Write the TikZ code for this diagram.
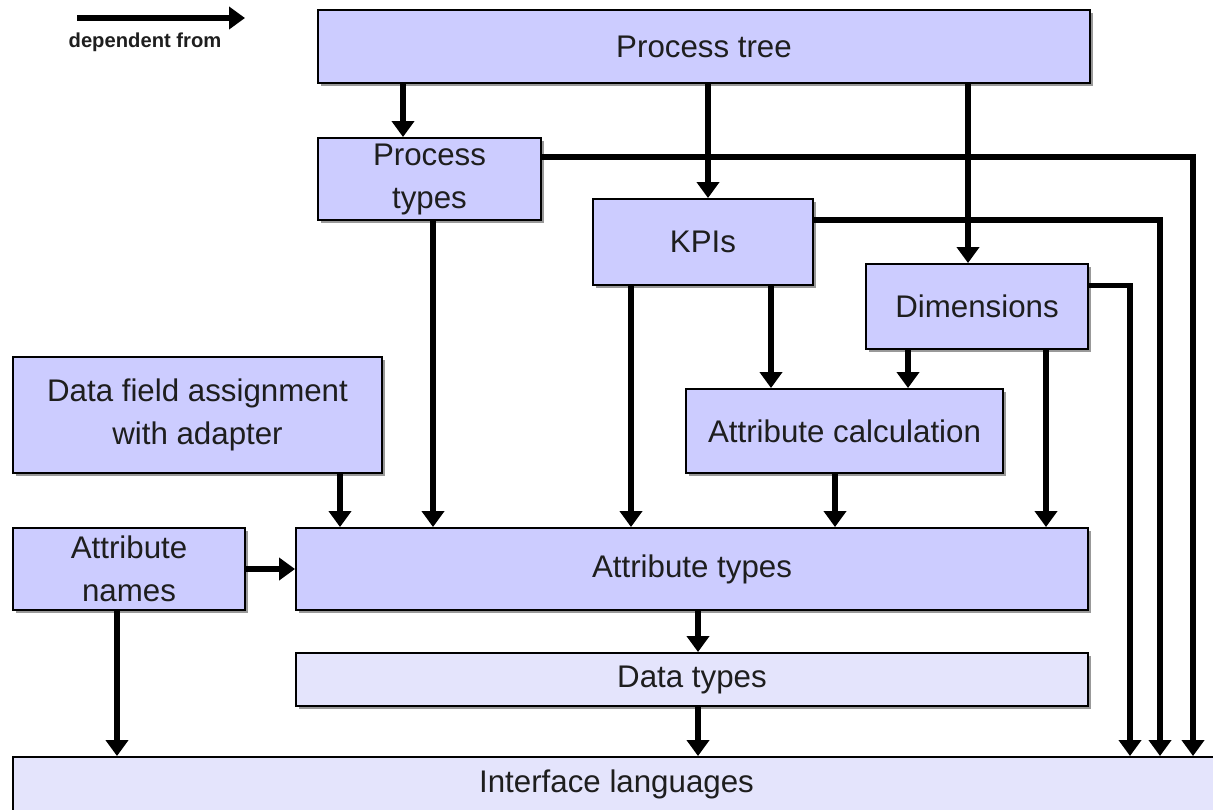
\documentclass[tikz,border=0pt]{standalone}
\usepackage{fontspec}
\setmainfont{Liberation Sans}
\usetikzlibrary{arrows.meta,shadows}

\definecolor{boxfill}{RGB}{204,204,255}
\definecolor{lightfill}{RGB}{228,228,252}
\definecolor{boxtext}{RGB}{30,30,30}

\tikzset{
  block/.style={draw=black,line width=1.1pt,fill=boxfill,text=boxtext,
    align=center,inner sep=0pt,font=\fontsize{17.8}{24.5}\selectfont,
    drop shadow={shadow xshift=0.05cm,shadow yshift=-0.05cm,fill=gray!80,opacity=1}},
  lightblock/.style={block,fill=lightfill},
  dep/.style={line width=3.1pt,-{Triangle[width=0.44cm,length=0.32cm]}},
}

\begin{document}
\begin{tikzpicture}
   \useasboundingbox (0,0) rectangle (24.26,-16.18);
   % boxes
   \node[block,minimum width=15.44cm,minimum height=1.46cm] (ptree) at (14.08,-0.93) {Process tree};
   \node[block,minimum width=4.46cm,minimum height=1.64cm] (ptypes) at (8.59,-3.58) {Process\\types};
   \node[block,minimum width=4.40cm,minimum height=1.72cm] (kpis) at (14.06,-4.84) {KPIs};
   \node[block,minimum width=4.44cm,minimum height=1.70cm] (dims) at (19.54,-6.13) {Dimensions};
   \node[block,minimum width=7.38cm,minimum height=2.32cm] (dfield) at (3.95,-8.30) {Data field assignment\\with adapter};
   \node[block,minimum width=6.34cm,minimum height=1.68cm] (acalc) at (16.89,-8.62) {Attribute calculation};
   \node[block,minimum width=4.64cm,minimum height=1.64cm] (anames) at (2.58,-11.38) {Attribute\\names};
   \node[block,minimum width=15.84cm,minimum height=1.64cm] (atypes) at (13.84,-11.38) {Attribute types};
   \node[lightblock,minimum width=15.84cm,minimum height=1.06cm] (dtypes) at (13.84,-13.59) {Data types};
   \node[lightblock,minimum width=24.14cm,minimum height=1.10cm] (ilang) at (12.33,-15.69) {Interface languages};

   % legend
   \coordinate (leg_a) at (1.54,-0.36);
   \coordinate (leg_b) at (4.90,-0.36);
   \draw[dep] (leg_a) -- (leg_b);
   \node[font=\fontsize{11.5}{13}\bfseries,text=boxtext] (legtext) at (2.90,-0.85) {dependent from};

   % x positions of the vertical connectors
   \coordinate (x_anl) at (2.34,0);
   \coordinate (x_dfa) at (6.80,0);
   \coordinate (x_ptt) at (8.06,0);
   \coordinate (x_pta) at (8.66,0);
   \coordinate (x_kpa) at (12.62,0);
   \coordinate (x_dty) at (13.96,0);
   \coordinate (x_ptk) at (14.16,0);
   \coordinate (x_kpc) at (15.42,0);
   \coordinate (x_cla) at (16.70,0);
   \coordinate (x_dmc) at (18.16,0);
   \coordinate (x_ptd) at (19.36,0);
   \coordinate (x_dma) at (20.92,0);
   \coordinate (x_dmi) at (22.60,0);
   \coordinate (x_kpi) at (23.20,0);
   \coordinate (x_pti) at (23.86,0);

   \path[dep]
       (ptree.south -| x_ptt) edge (ptypes.north -| x_ptt)
       (ptree.south -| x_ptk) edge (kpis.north -| x_ptk)
       (ptree.south -| x_ptd) edge (dims.north -| x_ptd)
       (ptypes.south -| x_pta) edge (atypes.north -| x_pta)
       (kpis.south -| x_kpa) edge (atypes.north -| x_kpa)
       (kpis.south -| x_kpc) edge (acalc.north -| x_kpc)
       (dims.south -| x_dmc) edge (acalc.north -| x_dmc)
       (dims.south -| x_dma) edge (atypes.north -| x_dma)
       (dfield.south -| x_dfa) edge (atypes.north -| x_dfa)
       (acalc.south -| x_cla) edge (atypes.north -| x_cla)
       (anames.east) edge (anames.east -| atypes.west)
       (anames.south -| x_anl) edge (ilang.north -| x_anl)
       (atypes.south -| x_dty) edge (dtypes.north -| x_dty)
       (dtypes.south -| x_dty) edge (ilang.north -| x_dty);

   % long connectors on the right
   \draw[dep] ([yshift=0.44cm]ptypes.east) -| (ilang.north -| x_pti);
   \draw[dep] ([yshift=0.44cm]kpis.east) -| (ilang.north -| x_kpi);
   \draw[dep] ([yshift=0.42cm]dims.east) -| (ilang.north -| x_dmi);
\end{tikzpicture}
\end{document}
